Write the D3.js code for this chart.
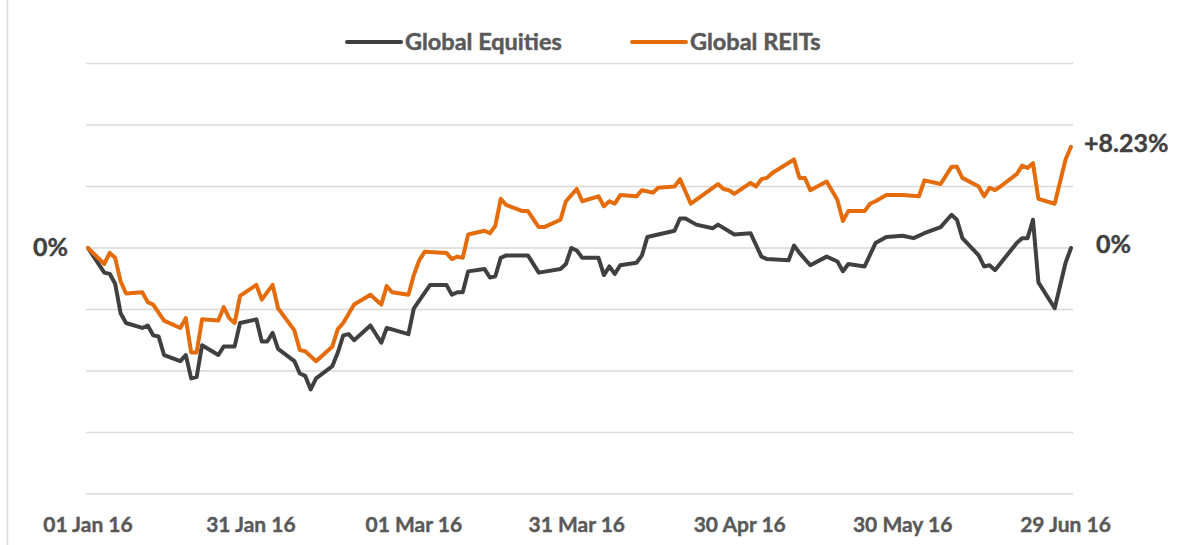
<!DOCTYPE html>
<meta charset="utf-8">
<style>
body { margin: 0; background: #fff; }
svg { display: block; font-family: Lato, "Open Sans", sans-serif; font-weight: bold; }
.grid line { stroke: #d9d9d9; stroke-width: 1.5px; }
.tick-label { fill: #595959; stroke: #595959; stroke-width: 0.4px; font-size: 21px; text-anchor: middle; }
.legend text { fill: #595959; stroke: #595959; stroke-width: 0.5px; font-size: 23.5px; }
.value-label { fill: #404040; stroke: #404040; stroke-width: 0.4px; font-size: 25px; }
</style>
<svg width="1179" height="545"></svg>
<script src="https://cdn.jsdelivr.net/npm/d3@7"></script>
<script>

// series, % change since 01 Jan 16
var equityDates = ["2016-01-01","2016-01-04","2016-01-05","2016-01-06","2016-01-07","2016-01-08","2016-01-11","2016-01-12","2016-01-13","2016-01-14","2016-01-15","2016-01-18","2016-01-19","2016-01-20","2016-01-21","2016-01-22","2016-01-25","2016-01-26","2016-01-28","2016-01-29",
  "2016-02-01","2016-02-02","2016-02-03","2016-02-04","2016-02-05","2016-02-08","2016-02-09","2016-02-10","2016-02-11","2016-02-12","2016-02-15","2016-02-16","2016-02-17","2016-02-18","2016-02-19","2016-02-22","2016-02-24","2016-02-25","2016-02-29",
  "2016-03-01","2016-03-04","2016-03-07","2016-03-08","2016-03-09","2016-03-10","2016-03-11","2016-03-14","2016-03-15","2016-03-16","2016-03-17","2016-03-18","2016-03-22","2016-03-24","2016-03-28","2016-03-29","2016-03-30","2016-03-31",
  "2016-04-01","2016-04-04","2016-04-05","2016-04-06","2016-04-07","2016-04-08","2016-04-11","2016-04-12","2016-04-13","2016-04-15","2016-04-18","2016-04-19","2016-04-20","2016-04-22","2016-04-25","2016-04-26","2016-04-29",
  "2016-05-02","2016-05-04","2016-05-05","2016-05-09","2016-05-10","2016-05-11","2016-05-13","2016-05-16","2016-05-18","2016-05-19","2016-05-20","2016-05-23","2016-05-25","2016-05-27","2016-05-30",
  "2016-06-01","2016-06-03","2016-06-06","2016-06-08","2016-06-09","2016-06-10","2016-06-13","2016-06-14","2016-06-15","2016-06-16","2016-06-20","2016-06-21","2016-06-22","2016-06-23","2016-06-24","2016-06-27","2016-06-29","2016-06-30"];
var equityValues = [0,-2.0,-2.1,-2.9,-5.3,-6.1,-6.5,-6.3,-7.1,-7.2,-8.7,-9.2,-8.7,-10.6,-10.5,-7.9,-8.7,-8.0,-8.0,-6.1,
  -5.8,-7.6,-7.6,-6.9,-8.2,-9.2,-10.2,-10.4,-11.5,-10.6,-9.6,-8.5,-7.1,-7.0,-7.5,-6.3,-7.7,-6.5,-7.0,
  -4.9,-3.0,-3.0,-3.8,-3.6,-3.6,-1.9,-1.7,-2.4,-2.3,-0.8,-0.6,-0.6,-2.0,-1.7,-1.3,0.0,-0.2,
  -0.8,-0.8,-2.2,-1.5,-2.1,-1.4,-1.2,-0.6,0.9,1.1,1.4,2.4,2.4,1.9,1.6,1.9,1.1,
  1.2,-0.7,-0.9,-1.0,0.2,-0.4,-1.4,-0.7,-1.1,-1.9,-1.3,-1.5,0.4,0.9,1.0,
  0.8,1.2,1.7,2.7,2.3,0.8,-0.6,-1.5,-1.4,-1.8,0.4,0.8,0.8,2.3,-2.8,-4.9,-1.2,0];

var reitDates = ["2016-01-01","2016-01-04","2016-01-05","2016-01-06","2016-01-07","2016-01-08","2016-01-11","2016-01-12","2016-01-13","2016-01-15","2016-01-18","2016-01-19","2016-01-20","2016-01-21","2016-01-22","2016-01-25","2016-01-26","2016-01-27","2016-01-28","2016-01-29",
  "2016-02-01","2016-02-02","2016-02-04","2016-02-05","2016-02-08","2016-02-09","2016-02-10","2016-02-12","2016-02-15","2016-02-16","2016-02-17","2016-02-19","2016-02-22","2016-02-24","2016-02-25","2016-02-26","2016-02-29",
  "2016-03-01","2016-03-02","2016-03-03","2016-03-07","2016-03-08","2016-03-09","2016-03-10","2016-03-11","2016-03-14","2016-03-15","2016-03-16","2016-03-17","2016-03-18","2016-03-21","2016-03-22","2016-03-24","2016-03-25","2016-03-28","2016-03-29","2016-03-31",
  "2016-04-01","2016-04-04","2016-04-05","2016-04-06","2016-04-07","2016-04-08","2016-04-11","2016-04-12","2016-04-14","2016-04-15","2016-04-18","2016-04-19","2016-04-21","2016-04-26","2016-04-27","2016-04-28","2016-04-29",
  "2016-05-02","2016-05-03","2016-05-04","2016-05-05","2016-05-06","2016-05-10","2016-05-11","2016-05-12","2016-05-13","2016-05-16","2016-05-18","2016-05-19","2016-05-20","2016-05-23","2016-05-24","2016-05-25","2016-05-27","2016-05-30",
  "2016-06-02","2016-06-03","2016-06-06","2016-06-08","2016-06-09","2016-06-10","2016-06-13","2016-06-14","2016-06-15","2016-06-16","2016-06-17","2016-06-20","2016-06-21","2016-06-22","2016-06-23","2016-06-24","2016-06-27","2016-06-29","2016-06-30"];
var reitValues = [0,-1.3,-0.4,-0.8,-2.7,-3.7,-3.6,-4.4,-4.6,-5.9,-6.5,-5.7,-8.5,-8.5,-5.8,-5.9,-4.8,-5.7,-6.1,-3.9,
  -3.0,-4.2,-3.0,-4.9,-6.7,-8.3,-8.4,-9.2,-8.0,-6.6,-6.1,-4.6,-3.8,-4.6,-3.1,-3.6,-3.8,
  -2.2,-1.0,-0.3,-0.4,-0.9,-0.7,-0.8,1.1,1.4,1.2,1.8,4.0,3.5,3.0,3.0,1.7,1.7,2.3,3.8,4.8,
  3.8,4.2,3.4,3.8,3.6,4.3,4.2,4.7,4.5,4.9,5.0,5.6,3.6,5.2,4.8,4.7,4.4,
  5.3,5.0,5.6,5.7,6.1,7.2,5.7,5.7,4.7,5.4,3.9,2.2,3.0,3.0,3.6,3.8,4.3,4.3,
  4.2,5.5,5.2,6.6,6.6,5.7,5.0,4.2,4.9,4.7,5.0,6.0,6.7,6.5,6.9,4.0,3.6,7.2,8.23];

var seriesNames = ["Global Equities", "Global REITs"];
var seriesColors = ["#404040", "#e46c0a"];
var tickDates = ["2016-01-01","2016-01-31","2016-03-01","2016-03-31","2016-04-30","2016-05-30","2016-06-29"];
var gridValues = [15, 10, 5, 0, -5, -10, -15, -20];

var parse = d3.utcParse("%Y-%m-%d"),
    fmt = d3.utcFormat("%d %b %y");

var svg = d3.select("svg");

var x = d3.scaleUtc()
    .domain([parse("2016-01-01"), parse("2016-06-30")])
    .range([88, 1071]);

var y = d3.scaleLinear()
    .domain([-20, 15])
    .range([494, 63.5]);

// frame
svg.append("line").attr("x1", 7.5).attr("x2", 7.5).attr("y1", 0).attr("y2", 545)
    .attr("stroke", "#d9d9d9").attr("stroke-width", 1.5);

// gridlines
svg.append("g").attr("class", "grid")
  .selectAll("line")
  .data(gridValues)
  .enter().append("line")
    .attr("x1", 86).attr("x2", 1073)
    .attr("y1", function(d) { return y(d); })
    .attr("y2", function(d) { return y(d); });

// x tick labels
svg.append("g")
  .selectAll("text")
  .data(tickDates)
  .enter().append("text")
    .attr("class", "tick-label")
    .attr("x", function(d) { return x(parse(d)); })
    .attr("y", 532)
    .text(function(d) { return fmt(parse(d)); });

var line = d3.line()
    .x(function(d) { return x(d.date); })
    .y(function(d) { return y(d.value); });

var series = [
  { name: seriesNames[0], color: seriesColors[0], points: equityDates.map(function(d, i) { return { date: parse(d), value: equityValues[i] }; }) },
  { name: seriesNames[1], color: seriesColors[1], points: reitDates.map(function(d, i) { return { date: parse(d), value: reitValues[i] }; }) }
];

svg.append("g")
  .selectAll("path")
  .data(series)
  .enter().append("path")
    .attr("fill", "none")
    .attr("stroke", function(d) { return d.color; })
    .attr("stroke-width", 4)
    .attr("stroke-linejoin", "round")
    .attr("stroke-linecap", "round")
    .attr("d", function(d) { return line(d.points); });

// legend
var legend = svg.append("g").attr("class", "legend")
  .selectAll("g")
  .data(series)
  .enter().append("g")
    .attr("transform", function(d, i) { return "translate(" + (i ? 632 : 347) + ",42)"; });

legend.append("line")
    .attr("x1", 0).attr("x2", 54)
    .attr("stroke", function(d) { return d.color; })
    .attr("stroke-width", 4)
    .attr("stroke-linecap", "round");

legend.append("text")
    .attr("x", 58)
    .attr("dy", "0.35em")
    .text(function(d) { return d.name; });

// value labels
var first = series[0].points[0].value,
    lastEq = equityValues[equityValues.length - 1],
    lastReit = reitValues[reitValues.length - 1];

svg.append("text").attr("class", "value-label")
    .attr("x", 33).attr("y", y(first)).attr("dy", "0.3em")
    .text(first + "%");

svg.append("text").attr("class", "value-label")
    .attr("x", 1096).attr("y", y(lastEq) - 3).attr("dy", "0.3em")
    .text(lastEq + "%");

svg.append("text").attr("class", "value-label")
    .attr("x", 1084).attr("y", y(lastReit) - 2).attr("dy", "0.3em")
    .text("+" + lastReit.toFixed(2) + "%");

</script>
